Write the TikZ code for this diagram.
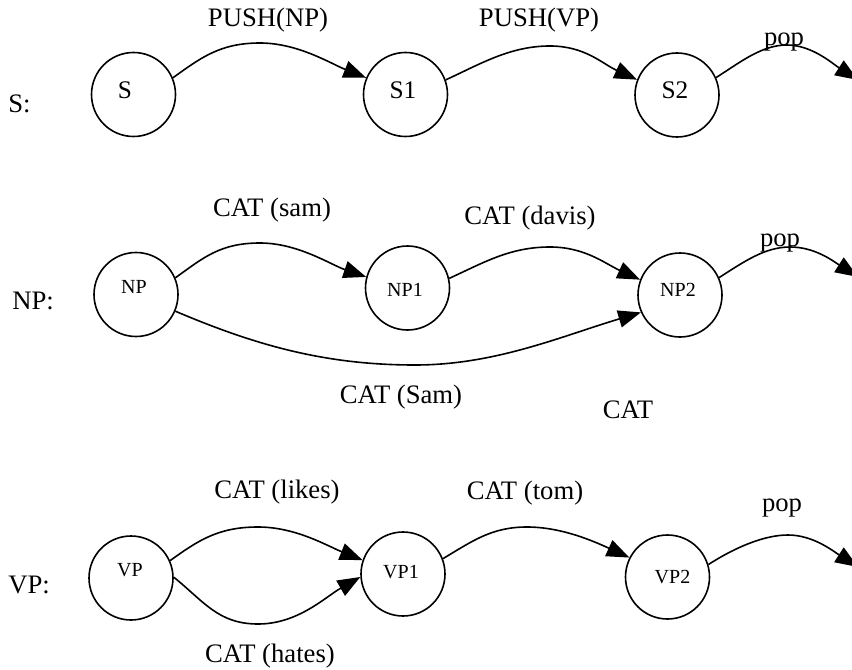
\documentclass[tikz,border=0pt]{standalone}
\usepackage{fontspec}
\setmainfont{Liberation Serif}
\usetikzlibrary{arrows.meta}
\newcommand\offtxt[3]{\raisebox{#2}[0pt][0pt]{\makebox[0pt]{\kern#1\relax #3\kern-#1\relax}}}
\begin{document}
\begin{tikzpicture}[x=0.75pt,y=-0.75pt,
  st/.style={draw,circle,line width=1.2pt,minimum size=63pt,inner sep=0pt},
  bigtxt/.style={font=\fontsize{20}{24}\selectfont,inner sep=0pt},
  stxt/.style={font=\fontsize{19}{22}\selectfont},
  smtxt/.style={font=\fontsize{15}{18}\selectfont},
  arc/.style={line width=1.2pt,-{Triangle[length=17pt,width=13pt]}}]
\useasboundingbox (0,0) rectangle (852,670);
% S row
\node[st,stxt] (S)  at (133.5,94.5) {\offtxt{-6.4pt}{-2.9pt}{S}};
\node[st,stxt] (S1) at (405.5,94.5) {\offtxt{-1.9pt}{-2.9pt}{S1}};
\node[st,stxt] (S2) at (677,95) {\offtxt{-1.5pt}{-2.6pt}{S2}};
\coordinate (e1) at (858,80);
\node[bigtxt,anchor=west] (Slab) at (8,104) {S:};
\node[bigtxt] (l1) at (268,20) {PUSH(NP)};
\node[bigtxt] (l2) at (539,20) {PUSH(VP)};
\node[bigtxt] (l3) at (784,42) {pop};
\draw[arc] (S.23) .. controls +(28,-20) and +(-40,0) .. (260,43) .. controls +(38,0) and +(-35,-14) .. (S1.157);
\draw[arc] (S1.20) .. controls +(35,-16) and +(-40,0) .. (550,46) .. controls +(35,0) and +(-35,-16) .. (S2.159);
\draw[arc] (S2.24) .. controls +(25,-16) and +(-25,0) .. (787,45) .. controls +(25,0) and +(-25,-16) .. (e1);
% NP row
\node[st,smtxt] (NP)  at (136,294.5) {\offtxt{-1.5pt}{0.7pt}{NP}};
\node[st,smtxt] (NP1) at (407.5,288) {\offtxt{-1.9pt}{-6.1pt}{NP1}};
\node[st,smtxt] (NP2) at (680,295) {\offtxt{-1.5pt}{-1.2pt}{NP2}};
\coordinate (e2) at (858,277);
\node[bigtxt,anchor=west] (NPlab) at (12,301) {NP:};
\node[bigtxt] (l4) at (272,210) {CAT (sam)};
\node[bigtxt] (l5) at (530,218) {CAT (davis)};
\node[bigtxt] (l6) at (780,243) {pop};
\node[bigtxt] (l7) at (401,397) {CAT (Sam)};
\node[bigtxt] (l8) at (628,410) {CAT};
\draw[arc] (NP.23) .. controls +(28,-20) and +(-40,0) .. (260,243) .. controls +(38,0) and +(-35,-12) .. (NP1.165);
\draw[arc] (NP1.13) .. controls +(35,-16) and +(-40,0) .. (550,247) .. controls +(35,0) and +(-35,-16) .. (NP2.159);
\draw[arc] (NP.337) .. controls +(80,34) and +(-90,0) .. (415,365) .. controls +(80,0) and +(-80,24) .. (NP2.204);
\draw[arc] (NP2.24) .. controls +(25,-16) and +(-25,0) .. (790,247) .. controls +(25,0) and +(-25,-16) .. (e2);
% VP row
\node[st,smtxt] (VP)  at (131,578) {\offtxt{-0.75pt}{1.05pt}{VP}};
\node[st,smtxt] (VP1) at (403,574) {\offtxt{-1.5pt}{-3.1pt}{VP1}};
\node[st,smtxt] (VP2) at (667.5,577) {\offtxt{3.75pt}{-4.6pt}{VP2}};
\coordinate (e3) at (858,567);
\node[bigtxt,anchor=west] (VPlab) at (8,585) {VP:};
\node[bigtxt] (l9) at (277,492) {CAT (likes)};
\node[bigtxt] (l10) at (270,656) {CAT (hates)};
\node[bigtxt] (l11) at (525,493) {CAT (tom)};
\node[bigtxt] (l12) at (782,508) {pop};
\draw[arc] (VP.24) .. controls +(28,-20) and +(-40,0) .. (258,527) .. controls +(38,0) and +(-35,-14) .. (VP1.161);
\draw[arc] (VP.1) .. controls +(30,24) and +(-40,0) .. (258,624) .. controls +(40,0) and +(-35,20) .. (VP1.184);
\draw[arc] (VP1.21) .. controls +(30,-18) and +(-35,0) .. (527,527) .. controls +(35,0) and +(-35,-16) .. (VP2.153);
\draw[arc] (VP2.17) .. controls +(25,-16) and +(-25,0) .. (788,535) .. controls +(25,0) and +(-25,-16) .. (e3);
\end{tikzpicture}
\end{document}
